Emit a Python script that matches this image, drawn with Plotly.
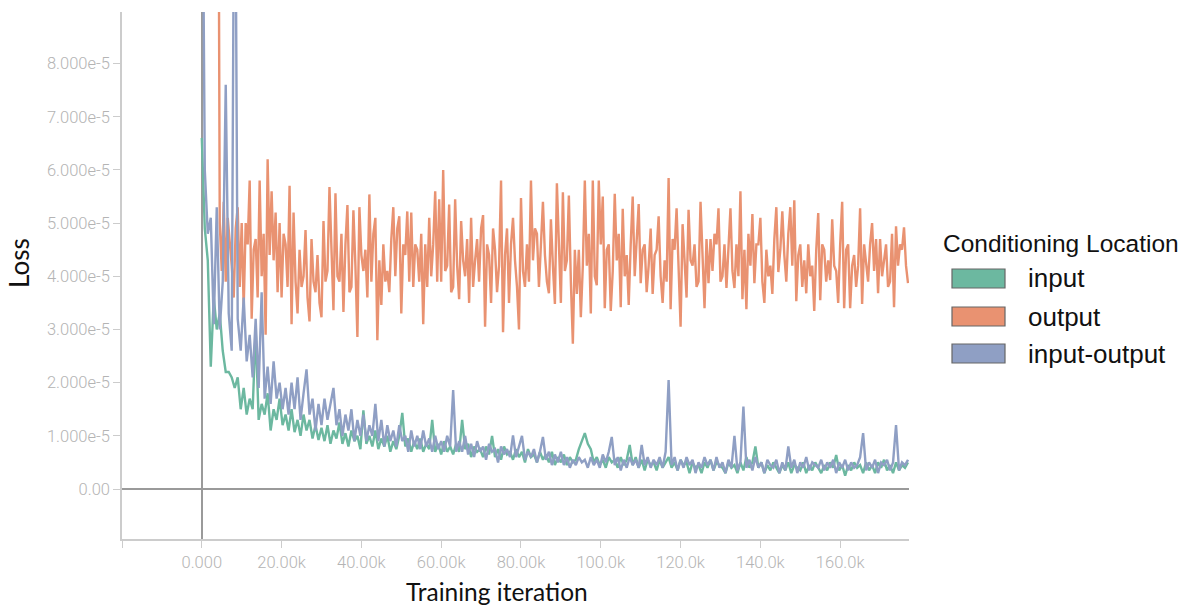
import plotly.graph_objects as go

# ---------------- data (loss values in units of 1e-5) ----------------
# logging interval (training iterations) of each run
input_step = 750
output_step = 500
input_output_step = 750

input_loss_e5 = [
    6.6, 4.9, 4.3, 2.3, 3.6, 3.0, 3.3, 2.6, 2.2, 2.2,
    2.1, 1.9, 2.1, 1.5, 1.9, 1.4, 1.7, 1.5, 3.0, 1.3,
    1.6, 1.4, 1.8, 1.1, 1.5, 1.3, 1.7, 1.2, 1.4, 1.1,
    1.5, 1.07, 1.3, 1.0, 1.4, 1.1, 1.3, 0.95, 1.2, 0.92,
    1.15, 0.9, 1.2, 0.85, 1.1, 0.95, 1.25, 0.85, 1.05, 0.8,
    1.1, 0.9, 1.0, 0.75, 1.48, 0.85, 1.0, 0.8, 1.1, 0.75,
    0.95, 0.8, 1.0, 0.7, 0.9, 0.75, 1.0, 1.43, 0.8, 0.95,
    0.7, 0.9, 0.75, 0.95, 0.7, 0.85, 0.75, 1.3, 0.7, 0.85,
    0.65, 0.9, 0.7, 0.8, 0.65, 0.85, 0.7, 1.3, 0.75, 0.85,
    0.6, 0.8, 0.7, 0.75, 0.6, 0.8, 0.65, 1.0, 0.6, 0.75,
    0.55, 0.8, 0.65, 0.7, 0.55, 0.75, 0.6, 0.7, 0.5, 0.75,
    0.6, 0.65, 0.5, 0.7, 0.55, 0.65, 0.5, 0.7, 0.45, 0.6,
    0.5, 0.65, 0.45, 0.6, 0.5, 0.55, 0.75, 0.9, 1.05, 0.85,
    0.75, 0.5, 0.6, 0.45, 0.55, 0.4, 0.6, 0.5, 0.55, 0.4,
    0.6, 0.45, 0.55, 0.83, 0.45, 0.6, 0.4, 0.55, 0.35, 0.55,
    0.45, 0.5, 0.35, 0.55, 0.4, 0.5, 0.6, 0.4, 0.5, 0.35,
    0.55, 0.45, 0.5, 0.3, 0.5, 0.4, 0.45, 0.3, 0.5, 0.4,
    0.55, 0.35, 0.5, 0.45, 0.4, 0.3, 0.5, 0.4, 0.45, 0.3,
    0.5, 0.35, 0.6, 0.4, 0.5, 0.8, 0.4, 0.5, 0.3, 0.45,
    0.35, 0.5, 0.4, 0.3, 0.45, 0.35, 0.5, 0.3, 0.45, 0.4,
    0.35, 0.5, 0.3, 0.45, 0.35, 0.5, 0.4, 0.3, 0.45, 0.35,
    0.5, 0.4, 0.64, 0.35, 0.45, 0.25, 0.45, 0.35, 0.5, 0.4,
    0.45, 0.3, 0.5, 0.35, 0.45, 0.3, 0.5, 0.4, 0.55, 0.35,
    0.45, 0.3, 0.5, 0.35, 0.45, 0.4, 0.5,
]

output_loss_e5 = [
    35, 32, 30, 26, 24, 22, 19, 17, 16,
    5.0, 4.1, 5.4, 3.9, 5.1, 4.7, 4.2, 3.6, 4.9, 5.3, 3.8, 5.0,
    3.4, 5.0, 4.6, 5.8, 3.2, 4.5, 4.7, 3.6, 5.8, 4.0, 4.8, 2.9,
    6.2, 4.4, 5.6, 4.3, 5.2, 3.7, 5.0, 3.6, 4.8, 4.6, 3.8, 5.7,
    3.1, 5.2, 3.9, 3.3, 4.5, 3.8, 4.0, 4.87, 3.6, 3.15, 4.7, 3.9,
    3.7, 4.4, 3.5, 3.23, 5.04, 3.9, 4.1, 5.68, 4.3, 3.36, 5.56, 4.0,
    3.9, 4.8, 3.33, 4.6, 5.34, 3.7, 3.8, 5.24, 4.2, 2.86, 5.3, 4.4,
    4.1, 4.5, 3.6, 5.54, 3.9, 4.8, 5.1, 2.8, 4.3, 3.46, 4.6, 3.9,
    4.1, 3.7, 4.7, 5.3, 4.0, 4.9, 5.13, 3.3, 4.6, 4.4, 5.22, 3.9,
    5.2, 3.8, 4.6, 4.5, 3.9, 4.8, 3.1, 4.6, 3.8, 5.1, 4.0, 4.6,
    5.6, 3.9, 5.45, 3.9, 6.0, 4.1, 4.2, 5.35, 3.7, 3.8, 5.45, 4.2,
    3.57, 5.04, 4.3, 4.0, 4.7, 3.5, 5.1, 3.8, 4.3, 4.7, 3.9, 4.9,
    5.15, 3.05, 4.6, 4.4, 3.5, 4.9, 4.5, 3.7, 4.2, 5.8, 2.95, 4.4,
    4.9, 3.5, 4.6, 5.1, 4.3, 3.8, 3.0, 5.47, 4.1, 3.8, 4.6, 3.9,
    5.8, 4.3, 4.9, 4.8, 3.8, 4.5, 5.4, 4.4, 3.9, 3.68, 5.07, 4.2,
    3.48, 5.75, 4.4, 3.5, 5.58, 4.1, 4.3, 5.52, 3.9, 2.73, 4.5, 3.67,
    4.5, 3.23, 4.2, 5.8, 4.2, 4.8, 3.3, 5.8, 4.0, 3.83, 5.8, 4.6,
    5.5, 3.4, 4.5, 4.6, 3.35, 4.1, 5.55, 4.3, 4.8, 3.42, 5.27, 4.0,
    4.4, 3.46, 4.6, 5.5, 4.0, 4.8, 5.36, 3.87, 4.5, 4.6, 3.7, 4.2,
    4.9, 3.67, 4.4, 4.5, 5.13, 4.0, 3.5, 4.3, 3.9, 5.85, 3.38, 4.7,
    4.5, 5.28, 4.0, 3.05, 4.98, 4.2, 3.6, 5.25, 4.3, 4.2, 4.6, 3.8,
    3.9, 5.4, 4.4, 3.4, 4.7, 3.87, 4.7, 4.1, 4.8, 4.6, 5.28, 3.9,
    4.0, 4.6, 3.78, 4.5, 5.28, 4.1, 3.78, 4.6, 4.0, 5.6, 3.57, 4.5,
    3.38, 4.8, 4.2, 5.17, 3.87, 4.6, 4.6, 5.1, 3.9, 3.5, 4.5, 4.0,
    4.2, 3.67, 4.7, 5.3, 4.08, 4.5, 5.22, 4.4, 3.9, 4.8, 5.3, 4.2,
    5.43, 3.53, 4.4, 4.6, 3.8, 4.3, 3.68, 4.6, 4.0, 4.2, 3.35, 4.5,
    5.19, 3.55, 4.6, 4.5, 3.9, 4.3, 3.93, 5.07, 4.2, 4.1, 3.5, 4.6,
    5.4, 3.4, 4.5, 4.6, 3.4, 4.2, 4.4, 3.8, 4.2, 5.28, 3.48, 4.6,
    4.3, 3.9, 4.6, 5.0, 4.1, 4.7, 3.68, 4.7, 4.0, 4.3, 4.6, 3.8,
    3.9, 4.8, 3.42, 4.94, 4.2, 4.6, 4.5, 4.92, 4.2, 3.87,
]

input_output_loss_e5 = [
    14, 6.0, 4.8, 5.1, 3.1, 5.3, 3.0, 3.9, 7.6, 3.3,
    2.6, 14, 3.2, 2.6, 3.6, 2.4, 2.9, 2.1, 3.2, 1.9,
    3.7, 1.7, 2.3, 1.6, 2.4, 1.7, 2.0, 1.5, 1.9, 1.4,
    2.0, 1.5, 2.1, 1.3, 1.8, 2.25, 1.4, 1.7, 1.1, 1.6,
    1.2, 1.7, 1.3, 1.6, 1.9, 1.2, 1.5, 1.0, 1.4, 1.1,
    1.5, 0.9, 1.3, 1.0, 1.4, 0.9, 1.2, 1.0, 1.6, 0.9,
    1.3, 0.8, 1.2, 0.9, 1.1, 0.8, 1.2, 0.9, 1.0, 0.7,
    1.1, 0.8, 1.0, 0.75, 1.1, 0.8, 0.95, 0.7, 1.0, 0.75,
    0.9, 0.7, 1.0, 0.8, 1.86, 0.7, 0.9, 0.7, 1.0, 0.65,
    0.85, 0.6, 0.9, 0.7, 0.8, 0.55, 0.85, 0.7, 0.75, 0.5,
    0.8, 0.65, 0.75, 0.6, 1.01, 0.6, 0.8, 1.0, 0.55, 0.7,
    0.6, 0.75, 0.5, 0.7, 0.98, 0.55, 0.7, 0.45, 0.65, 0.5,
    0.7, 0.45, 0.6, 0.4, 0.55, 0.45, 0.6, 0.5, 0.55, 0.4,
    0.6, 0.45, 0.55, 0.4, 0.65, 0.5, 0.7, 0.98, 0.45, 0.6,
    0.35, 0.55, 0.4, 0.6, 0.45, 0.55, 0.4, 0.83, 0.45, 0.6,
    0.4, 0.55, 0.45, 0.6, 0.4, 0.7, 2.05, 0.45, 0.6, 0.35,
    0.55, 0.4, 0.6, 0.45, 0.55, 0.3, 0.5, 0.4, 0.6, 0.45,
    0.55, 0.35, 0.6, 0.4, 0.5, 0.3, 0.55, 0.4, 1.0, 0.35,
    0.5, 1.55, 0.4, 0.55, 0.35, 0.6, 0.4, 0.5, 0.3, 0.55,
    0.45, 0.4, 0.55, 0.3, 0.5, 0.35, 0.8, 0.4, 0.55, 0.3,
    0.5, 0.4, 0.6, 0.35, 0.5, 0.45, 0.4, 0.55, 0.35, 0.5,
    0.4, 0.55, 0.3, 0.5, 0.4, 0.55, 0.35, 0.5, 0.4, 0.45,
    0.6, 1.05, 0.35, 0.5, 0.4, 0.55, 0.3, 0.5, 0.45, 0.55,
    0.35, 0.5, 1.2, 0.35, 0.5, 0.45, 0.55,
]

series_names = ["input", "output", "input-output"]
series_values = [input_loss_e5, output_loss_e5, input_output_loss_e5]
series_steps = [input_step, output_step, input_output_step]
series_colors = ["#6cb8a0", "#e99271", "#8f9fc4"]

x_tick_values = [-20000, 0, 20000, 40000, 60000, 80000, 100000, 120000, 140000, 160000]
x_tick_labels = ["", "0.000", "20.00k", "40.00k", "60.00k", "80.00k", "100.0k", "120.0k", "140.0k", "160.0k"]
y_tick_values = [0, 1e-5, 2e-5, 3e-5, 4e-5, 5e-5, 6e-5, 7e-5, 8e-5]
y_tick_labels = ["0.00", "1.000e-5", "2.000e-5", "3.000e-5", "4.000e-5",
                 "5.000e-5", "6.000e-5", "7.000e-5", "8.000e-5"]

legend_title = "Conditioning Location"
x_title = "Training iteration"
y_title = "Loss"

# ---------------- figure ----------------
W, H = 1180, 608
L, R, T, B = 122, 909, 12, 539  # plot area in pixels

fig = go.Figure()
for name, vals, step, col in zip(series_names, series_values, series_steps, series_colors):
    fig.add_trace(go.Scatter(
        x=[i * step for i in range(len(vals))],
        y=[v * 1e-5 for v in vals],
        mode="lines",
        name=name,
        line=dict(color=col, width=2.4),
        showlegend=False,
        hoverinfo="x+y+name",
    ))

tick_font = dict(family="Roboto", size=16.5, color="#b4b4b4", weight=300)

fig.update_layout(
    width=W, height=H,
    margin=dict(l=L, r=W - R, t=T, b=H - B, autoexpand=False),
    paper_bgcolor="white",
    plot_bgcolor="white",
    showlegend=False,
    xaxis=dict(
        range=[-20000, 177250],
        tickmode="array", tickvals=x_tick_values, ticktext=x_tick_labels,
        ticks="outside", ticklen=7, tickwidth=1, tickcolor="#cccccc",
        showline=True, linecolor="#cccccc", linewidth=1.5,
        showgrid=False,
        zeroline=True, zerolinecolor="#9a9a9a", zerolinewidth=2,
        tickfont=tick_font,
        automargin=False,
    ),
    yaxis=dict(
        range=[-0.94e-5, 8.97e-5],
        tickmode="array", tickvals=y_tick_values, ticktext=y_tick_labels,
        ticks="outside", ticklen=7, tickwidth=1, tickcolor="#cccccc",
        showline=True, linecolor="#cccccc", linewidth=1.5,
        showgrid=False,
        zeroline=True, zerolinecolor="#9a9a9a", zerolinewidth=2,
        tickfont=tick_font,
        automargin=False,
    ),
)

def px_x(px):
    return (px - L) / (R - L)

def px_y(py):
    return (B - py) / (B - T)

# axis titles
fig.add_annotation(
    x=px_x(497), y=px_y(591), xref="paper", yref="paper",
    text=x_title, showarrow=False, xanchor="center", yanchor="middle",
    borderpad=0, font=dict(family="Lato", size=24.5, color="#111111"),
)
fig.add_annotation(
    x=px_x(19), y=px_y(263), xref="paper", yref="paper",
    text=y_title, showarrow=False, xanchor="center", yanchor="middle",
    textangle=-90, font=dict(family="Lato", size=26, color="#111111"),
)

# ---------------- legend (drawn with shapes + text) ----------------
fig.add_annotation(
    x=px_x(941), y=px_y(243), xref="paper", yref="paper",
    text=legend_title, showarrow=False, xanchor="left", yanchor="middle",
    font=dict(family="Liberation Sans", size=24.5, color="#111111"),
)
row_centers = [278.5, 316.5, 353.5]
for name, col, cy in zip(series_names, series_colors, row_centers):
    fig.add_shape(
        type="rect", xref="paper", yref="paper",
        x0=px_x(952), x1=px_x(1005), y0=px_y(cy - 9.5), y1=px_y(cy + 9.5),
        fillcolor=col, line=dict(color="#666666", width=1.2), layer="above",
    )
    fig.add_annotation(
        x=px_x(1026), y=px_y(cy), xref="paper", yref="paper",
        text=name, showarrow=False, xanchor="left", yanchor="middle",
        font=dict(family="Liberation Sans", size=26, color="#111111"),
    )

fig.write_html("out.html")
